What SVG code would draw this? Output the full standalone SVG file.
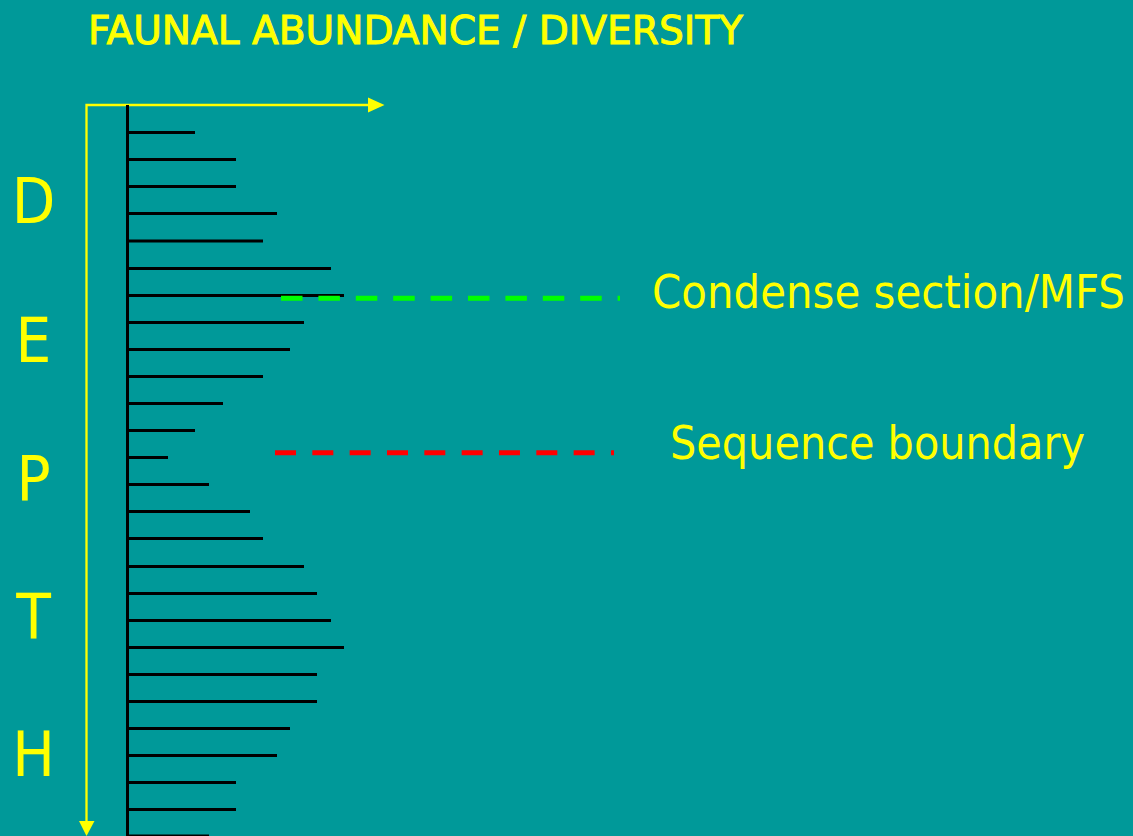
<svg xmlns="http://www.w3.org/2000/svg" width="1133" height="836" viewBox="0 0 1133 836">
  <style>
    .bg { fill: #009999; }
    .axis { stroke: #FFFF00; stroke-width: 2.3; fill: none; }
    .head { fill: #FFFF00; }
    .bar { fill: #000000; }
    .lbl { fill: #FFFF00; font-family: "DejaVu Sans Condensed", "DejaVu Sans", sans-serif; }
    .title { fill: #FFFF00; stroke: #FFFF00; stroke-width: 0.9; font-family: "DejaVu Sans Condensed", "DejaVu Sans", sans-serif; font-size: 39px; }
  </style>
  <rect class="bg" x="0" y="0" width="1133" height="836"/>

  <g id="title">
    <text class="title" x="88" y="44" textLength="655" lengthAdjust="spacingAndGlyphs">FAUNAL ABUNDANCE / DIVERSITY</text>
  </g>

  <g id="axes">
    <polyline class="axis" points="368,105 86.5,105 86.5,822"/>
    <polygon class="head" points="368,97.5 368,112.5 384.5,105"/>
    <polygon class="head" points="79,821 94.5,821 86.5,836"/>
  </g>

  <g id="depth-label" class="lbl" font-size="63" text-anchor="middle">
    <text x="33.5" y="223">D</text>
    <text x="33.5" y="362">E</text>
    <text x="33.5" y="500">P</text>
    <text x="33.5" y="638">T</text>
    <text x="33.5" y="776">H</text>
  </g>

  <g id="histogram">
    <rect class="bar" x="126" y="105" width="3" height="731"/>
    <rect class="bar" x="126" y="131" width="69" height="3"/>
    <rect class="bar" x="126" y="158" width="110" height="3"/>
    <rect class="bar" x="126" y="185" width="110" height="3"/>
    <rect class="bar" x="126" y="212" width="151" height="3"/>
    <rect class="bar" x="126" y="239.5" width="137" height="3"/>
    <rect class="bar" x="126" y="267" width="205" height="3"/>
    <rect class="bar" x="126" y="294" width="218" height="3"/>
    <rect class="bar" x="126" y="321" width="178" height="3"/>
    <rect class="bar" x="126" y="348" width="164" height="3"/>
    <rect class="bar" x="126" y="375" width="137" height="3"/>
    <rect class="bar" x="126" y="402" width="97" height="3"/>
    <rect class="bar" x="126" y="429" width="69" height="3"/>
    <rect class="bar" x="126" y="456" width="42" height="3"/>
    <rect class="bar" x="126" y="483" width="83" height="3"/>
    <rect class="bar" x="126" y="510" width="124" height="3"/>
    <rect class="bar" x="126" y="537" width="137" height="3"/>
    <rect class="bar" x="126" y="565" width="178" height="3"/>
    <rect class="bar" x="126" y="592" width="191" height="3"/>
    <rect class="bar" x="126" y="619" width="205" height="3"/>
    <rect class="bar" x="126" y="646" width="218" height="3"/>
    <rect class="bar" x="126" y="673" width="191" height="3"/>
    <rect class="bar" x="126" y="700" width="191" height="3"/>
    <rect class="bar" x="126" y="727" width="164" height="3"/>
    <rect class="bar" x="126" y="754" width="151" height="3"/>
    <rect class="bar" x="126" y="781" width="110" height="3"/>
    <rect class="bar" x="126" y="808" width="110" height="3"/>
    <rect class="bar" x="126" y="834.5" width="83" height="3"/>
  </g>

  <g id="connectors">
    <line x1="281" y1="298.3" x2="620" y2="298.3" stroke="#00FF00" stroke-width="5" stroke-dasharray="21.5 15.9"/>
    <line x1="275" y1="452.7" x2="614" y2="452.7" stroke="#FF0000" stroke-width="5" stroke-dasharray="21 16.33"/>
  </g>

  <g id="label-mfs">
    <text class="lbl" x="652" y="308" font-size="47" textLength="473" lengthAdjust="spacingAndGlyphs">Condense section/MFS</text>
  </g>
  <g id="label-sb">
    <text class="lbl" x="670" y="459" font-size="47" textLength="415" lengthAdjust="spacingAndGlyphs">Sequence boundary</text>
  </g>
</svg>
